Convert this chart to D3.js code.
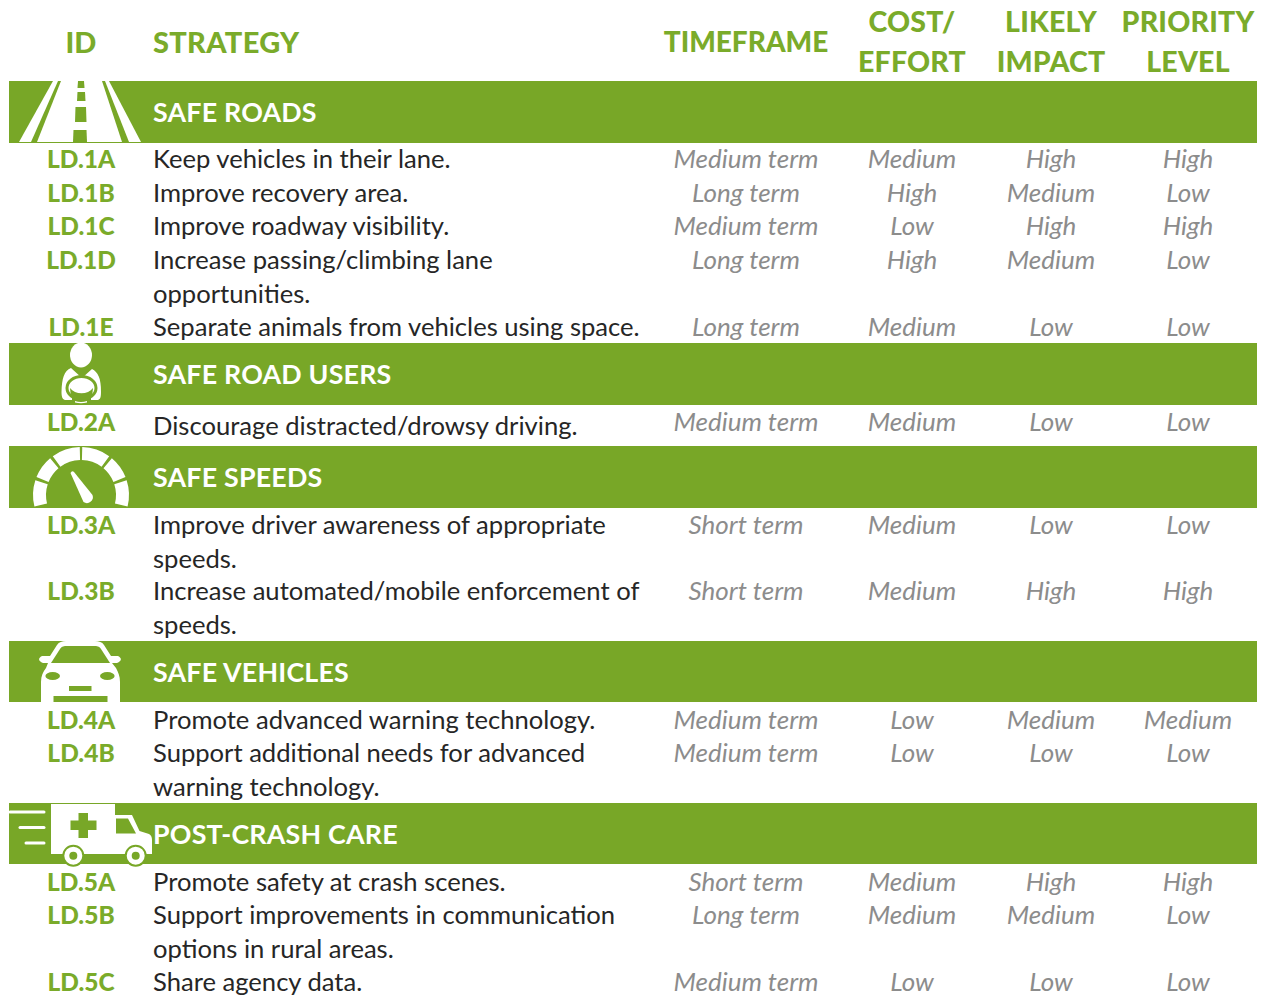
<!DOCTYPE html>
<html>
<head>
<meta charset="utf-8">
<script src="https://cdn.jsdelivr.net/npm/d3@7"></script>
<style>
html, body { margin: 0; padding: 0; background: #fff; }
</style>
</head>
<body>
<svg class="strategyTable" width="1265" height="998"></svg>
<script>
const green = "#78a727";
const idGreen = "#7aab2a";
const grey = "#8c8c8c";

const headers = ["ID", "STRATEGY", "TIMEFRAME", ["COST/", "EFFORT"], ["LIKELY", "IMPACT"], ["PRIORITY", "LEVEL"]];
const sections = ["SAFE ROADS", "SAFE ROAD USERS", "SAFE SPEEDS", "SAFE VEHICLES", "POST-CRASH CARE"];
const sectionY = [81, 343, 446, 641, 803];
const sectionH = [62, 62, 62, 61, 61];

const ids = ["LD.1A","LD.1B","LD.1C","LD.1D","LD.1E","LD.2A","LD.3A","LD.3B","LD.4A","LD.4B","LD.5A","LD.5B","LD.5C"];
const strategies = [
  ["Keep vehicles in their lane."],
  ["Improve recovery area."],
  ["Improve roadway visibility."],
  ["Increase passing/climbing lane", "opportunities."],
  ["Separate animals from vehicles using space."],
  ["Discourage distracted/drowsy driving."],
  ["Improve driver awareness of appropriate", "speeds."],
  ["Increase automated/mobile enforcement of", "speeds."],
  ["Promote advanced warning technology."],
  ["Support additional needs for advanced", "warning technology."],
  ["Promote safety at crash scenes."],
  ["Support improvements in communication", "options in rural areas."],
  ["Share agency data."]
];
const timeframe = ["Medium term","Long term","Medium term","Long term","Long term","Medium term","Short term","Short term","Medium term","Medium term","Short term","Long term","Medium term"];
const cost = ["Medium","High","Low","High","Medium","Medium","Medium","Medium","Low","Low","Medium","Medium","Low"];
const impact = ["High","Medium","High","Medium","Low","Low","Low","High","Medium","Low","High","Medium","Low"];
const priority = ["High","Low","High","Low","Low","Low","Low","High","Medium","Low","High","Low","Low"];
const rowY = [158, 192, 225, 259, 326, 421, 524, 590, 719, 752, 881, 914, 981];

const svg = d3.select(".strategyTable");
const font = "Lato, 'Noto Sans', sans-serif";

// Column centres
const colX = { id: 81, strategy: 153, time: 746, cost: 912, impact: 1051, priority: 1188 };

function addText(x, y, str, size, fill, anchor, weight, style, spacing) {
  svg.append("text")
    .attr("x", x).attr("y", y)
    .attr("text-anchor", anchor)
    .attr("dominant-baseline", "central")
    .style("font-family", font)
    .style("font-size", size + "px")
    .style("font-weight", weight)
    .style("font-style", style)
    .style("letter-spacing", (spacing || 0) + "px")
    .style("fill", fill)
    .text(str);
}

// Header row
addText(colX.id, 41, headers[0], 29, idGreen, "middle", 900, "normal");
addText(colX.strategy, 41, headers[1], 29, idGreen, "start", 900, "normal", 0.3);
addText(colX.time, 41, headers[2], 28, idGreen, "middle", 900, "normal");
[[colX.cost, headers[3]], [colX.impact, headers[4]], [colX.priority, headers[5]]].forEach(h => {
  addText(h[0], 21, h[1][0], 28.5, idGreen, "middle", 900, "normal", 0.2);
  addText(h[0], 61, h[1][1], 28.5, idGreen, "middle", 900, "normal", 0.2);
});

// Section bands
sections.forEach((s, i) => {
  svg.append("rect").attr("x", 9).attr("y", sectionY[i]).attr("width", 1248).attr("height", sectionH[i]).style("fill", green);
  addText(colX.strategy, sectionY[i] + 31, s, 26.8, "#fff", "start", 700, "normal", 0.2);
});

// Rows
ids.forEach((id, i) => {
  addText(colX.id, rowY[i], id, 24.5, idGreen, "middle", 900, "normal");
  strategies[i].forEach((line, j) => {
    const extra = i === 5 ? 4 : 0;
    addText(colX.strategy, rowY[i] + extra + j * 33.5, line, 25.6, "#262626", "start", 400, "normal");
  });
  addText(colX.time, rowY[i], timeframe[i], 26, grey, "middle", 400, "italic");
  addText(colX.cost, rowY[i], cost[i], 26, grey, "middle", 400, "italic");
  addText(colX.impact, rowY[i], impact[i], 26, grey, "middle", 400, "italic");
  addText(colX.priority, rowY[i], priority[i], 26, grey, "middle", 400, "italic");
});

// Icons, drawn by hand in page coordinates
function whitePath(d) {
  return svg.append("path").attr("d", d).style("fill", "#fff");
}
function greenPath(d) {
  return svg.append("path").attr("d", d).style("fill", green);
}

// Road
whitePath("M19 142L53 81H58L31 142Z");
whitePath("M37 142L61 81H102L122 142Z");
whitePath("M129 142L105 81H109L141 142Z");
greenPath("M78 81H84L84.5 88H77.5Z");
greenPath("M77.5 92H85L85.5 101H77Z");
greenPath("M75.5 107H86L86.5 122H75Z");
greenPath("M73.5 130H86.5L87 142H73Z");

// Driver
svg.append("ellipse").attr("cx", 81).attr("cy", 355).attr("rx", 11).attr("ry", 12.5).style("fill", "#fff");
whitePath("M71 368C64 371 62 378 61.5 392C61.5 398 63 400 66 400H72V396H91V400H97C100 400 101 398 101 392C101 378 98 372 92 369L82 378Z");
svg.append("ellipse").attr("cx", 81.5).attr("cy", 388).attr("rx", 14.5).attr("ry", 11.5).style("fill", "none").style("stroke", green).style("stroke-width", 3);
greenPath("M70 388C75 395 88 395 93 388L92 397H71Z");
whitePath("M74 387Q81.5 381 89 387L84 391H79Z");
whitePath("M75 401Q81 403 87 401L87 402.5Q81 404 75 402.5Z");

// Speedometer
const gauge = d3.arc().innerRadius(35).outerRadius(48);
[[-104,-72],[-68,-40],[-36,-1.5],[1.5,36],[40,68],[72,104]].forEach(a => {
  svg.append("path")
    .attr("transform", "translate(81,495)")
    .attr("d", gauge({ startAngle: a[0] * Math.PI / 180, endAngle: a[1] * Math.PI / 180 }))
    .style("fill", "#fff");
});
whitePath("M70.5 473Q72 470 74 472L92.5 495A6 6 0 0 1 83.5 502Z");

// Car
whitePath("M41 702V682C41 676 43 672 46 668L48 663H43C38 661 38 658 42 656H50L57 645C59 642 62 641 66 641H95C99 641 102 642 104 645L111 656H118C122 658 122 661 117 663H112L116 668C118 672 120 676 120 682V702Z");
greenPath("M51 663L60 649C62 646 64 646 67 646H94C97 646 99 646 101 649L110 663Z");
svg.append("ellipse").attr("cx", 52.7).attr("cy", 676).attr("rx", 7.3).attr("ry", 4).style("fill", green);
svg.append("ellipse").attr("cx", 107.3).attr("cy", 676).attr("rx", 7.3).attr("ry", 4).style("fill", green);
greenPath("M69 686H91.5V691H69Z");
greenPath("M53.5 696H107.5V702H53.5Z");

// Ambulance
whitePath("M51 804H115V815H132L139.5 831L149 834C151 835 152 837 152 840V854H51Z");
greenPath("M116 818.5H128L136 833.5H116Z");
greenPath("M78.5 813H88V820.5H96.5V830H88V838H78.5V830H70.5V820.5H78.5Z");
[73.3, 135.7].forEach(cx => {
  svg.append("circle").attr("cx", cx).attr("cy", 855.7).attr("r", 10).style("fill", "#fff").style("stroke", green).style("stroke-width", 2);
  svg.append("circle").attr("cx", cx).attr("cy", 855.7).attr("r", 4).style("fill", green);
});
[[10, 812], [20, 827.5], [26, 843]].forEach(l => {
  svg.append("line").attr("x1", l[0]).attr("x2", 44).attr("y1", l[1]).attr("y2", l[1])
    .style("stroke", "#fff").style("stroke-width", 3).style("stroke-linecap", "round");
});
</script>
</body>
</html>
